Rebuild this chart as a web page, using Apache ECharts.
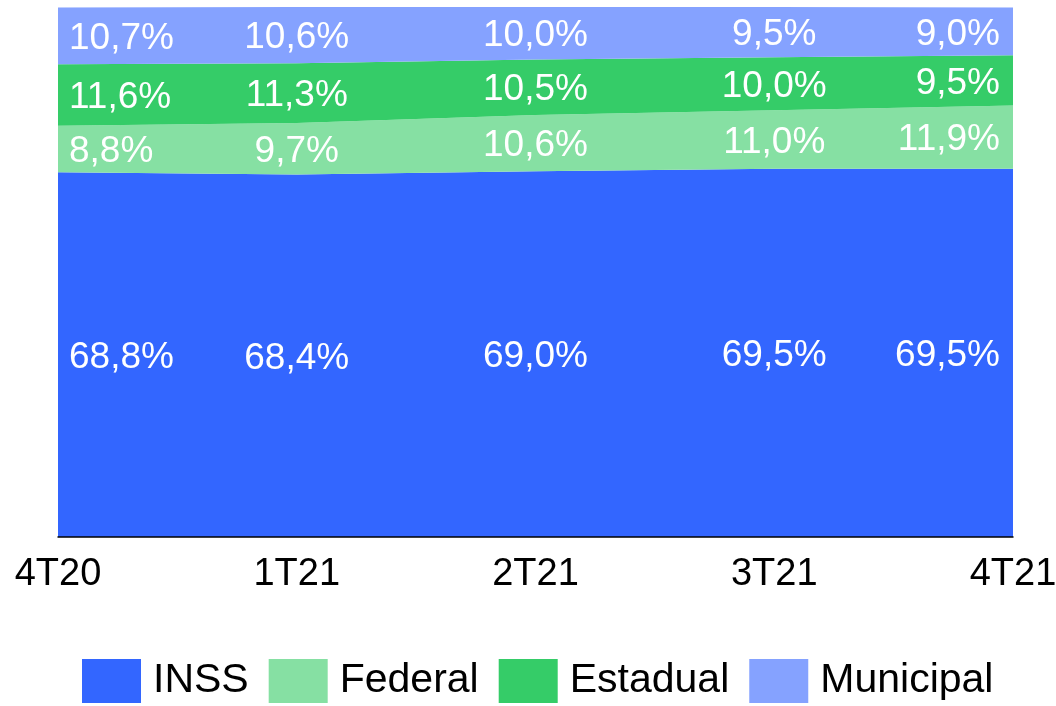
<!DOCTYPE html>
<html>
<head>
<meta charset="utf-8">
<script src="https://cdn.jsdelivr.net/npm/echarts@6/dist/echarts.min.js"></script>
<style>
  html, body { margin: 0; padding: 0; background: #fff; }
  #chart { width: 1056px; height: 706px; }
</style>
</head>
<body>
<div id="chart"></div>
<script>
const categories = ['4T20', '1T21', '2T21', '3T21', '4T21'];
const inss = [68.8, 68.4, 69.0, 69.5, 69.5];
const federal = [8.8, 9.7, 10.6, 11.0, 11.9];
const estadual = [11.6, 11.3, 10.5, 10.0, 9.5];
const municipal = [10.7, 10.6, 10.0, 9.5, 9.0];

const seriesDefs = [
    { name: 'INSS', data: inss, color: '#3366ff' },
    { name: 'Federal', data: federal, color: '#86e0a3' },
    { name: 'Estadual', data: estadual, color: '#35cc68' },
    { name: 'Municipal', data: municipal, color: '#85a2ff' }
];

const font = '"Liberation Sans", Arial, sans-serif';
const fmt = (v) => v.toFixed(1).replace('.', ',') + '%';

const chart = echarts.init(document.getElementById('chart'));

const series = [];
// stacked areas
seriesDefs.forEach(s => {
    series.push({
        name: s.name,
        type: 'line',
        stack: 'total',
        data: s.data,
        symbol: 'none',
        lineStyle: { width: 0 },
        areaStyle: { color: s.color, opacity: 1 },
        itemStyle: { color: s.color },
        silent: true
    });
});

// labels sitting in the middle of each band
const base = categories.map(() => 0);
seriesDefs.forEach(s => {
    const pts = s.data.map((v, i) => {
        const mid = base[i] + v / 2;
        base[i] += v;
        let label = { offset: [0, 3] };
        if (i === 0) label = { align: 'left', offset: [11, 3] };
        if (i === categories.length - 1) label = { align: 'right', offset: [-13, 3] };
        return { value: [i, mid, v], label: label };
    });
    series.push({
        name: 'lbl-' + s.name,
        type: 'scatter',
        data: pts,
        symbolSize: 0,
        silent: true,
        z: 10,
        itemStyle: { opacity: 1 },
        label: {
            show: true,
            position: 'inside',
            color: '#ffffff',
            opacity: 1,
            fontSize: 37,
            fontFamily: font,
            formatter: (p) => fmt(p.value[2])
        }
    });
});

const option = {
    animation: false,
    grid: { left: 58, right: 43, top: 7, bottom: 169, outerBoundsMode: 'none' },
    legend: {
        data: seriesDefs.map(s => s.name),
        left: 82,
        top: 659,
        padding: 0,
        icon: 'rect',
        itemWidth: 59,
        itemHeight: 44,
        itemGap: 20,
        textStyle: { fontSize: 41, color: '#000', fontFamily: font, padding: [10, 0, 0, 7] }
    },
    xAxis: {
        type: 'category',
        data: categories,
        boundaryGap: false,
        axisLine: { lineStyle: { color: '#000', width: 1.5 } },
        axisTick: { show: false },
        axisLabel: { fontSize: 38, color: '#000', fontFamily: font, margin: 19 },
        z: 20
    },
    yAxis: {
        type: 'value',
        min: 0,
        max: 100,
        show: false,
        splitLine: { show: false }
    },
    series: series
};

chart.setOption(option);
</script>
</body>
</html>
